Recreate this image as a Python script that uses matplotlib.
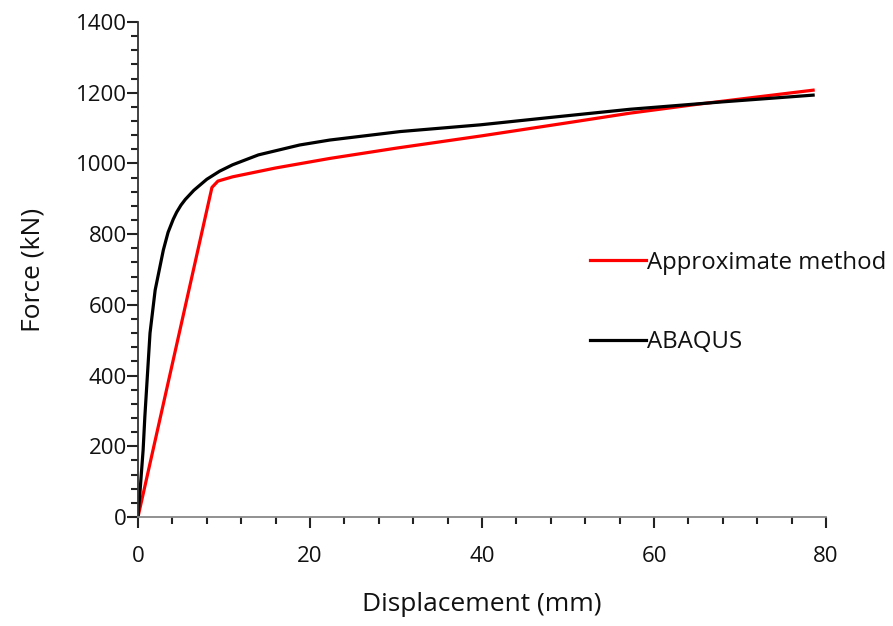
import numpy as np
import matplotlib.pyplot as plt
from matplotlib.ticker import MultipleLocator

# plot style things
plt.rcParams['font.family'] = ['Open Sans', 'DejaVu Sans']

# data
approx_disp = [0, 8.6, 9.3, 11.0, 16.0, 22.3, 30.0, 40.0, 50.0, 57.2, 65.0, 78.5]
approx_force = [0, 932, 950, 962, 987, 1014, 1043, 1078, 1115, 1142, 1167, 1207]

abaqus_disp = [0, 0.2, 0.6, 0.8, 1.4, 2.0, 2.95, 3.5, 4.1, 4.5, 5.0, 5.5, 6.5, 8.0,
               9.5, 11.0, 14.0, 18.8, 22.3, 30.5, 39.8, 48.0, 57.2, 68.0, 78.5]
abaqus_force = [0, 60, 190, 284, 520, 642, 755, 805, 842, 862, 882, 898, 924, 955,
                978, 996, 1024, 1052, 1066, 1090, 1109, 1130, 1153, 1174, 1193]

fig = plt.figure(figsize=(8.93, 6.26), dpi=100)
ax = fig.add_axes([0.1545, 0.174, 0.7705, 0.791])

ax.plot(approx_disp, approx_force, color='#ff0000', linewidth=2.3, label='Approximate method')
ax.plot(abaqus_disp, abaqus_force, color='black', linewidth=2.3, label='ABAQUS')

ax.set_xlim(0, 80)
ax.set_ylim(0, 1400)
ax.xaxis.set_major_locator(MultipleLocator(20))
ax.xaxis.set_minor_locator(MultipleLocator(4))
ax.yaxis.set_major_locator(MultipleLocator(200))
ax.yaxis.set_minor_locator(MultipleLocator(40))

for s in ['top', 'right']:
    ax.spines[s].set_visible(False)
ax.spines['left'].set_color('#333333')
ax.spines['bottom'].set_color('#888888')
ax.spines['left'].set_linewidth(1.3)
ax.spines['bottom'].set_linewidth(1.3)

ax.tick_params(which='major', direction='out', length=8, width=1.5, color='#222222',
               labelsize=16, labelcolor='#111111')
ax.tick_params(which='minor', direction='out', length=5, width=1.5, color='#222222')
ax.tick_params(axis='x', pad=13)
ax.tick_params(axis='y', pad=0)

ax.set_xlabel('Displacement (mm)', fontsize=19, labelpad=18, color='#111111')
ax.set_ylabel('Force (kN)', fontsize=19, labelpad=22, color='#111111')

ax.legend(loc='upper left', bbox_to_anchor=(0.64, 0.562), frameon=False, fontsize=17.3,
          handlelength=2.3, handletextpad=0.05, labelspacing=2.3, borderpad=0,
          labelcolor='#111111')

fig.savefig('out.png', dpi=100)
